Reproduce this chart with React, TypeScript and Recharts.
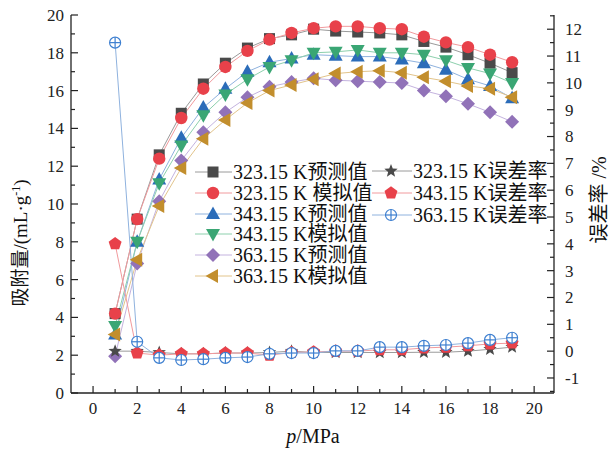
import React from 'react';
import { LineChart, Line, XAxis, YAxis, Customized } from 'recharts';

// pressure, MPa
const pressure = [1, 2, 3, 4, 5, 6, 7, 8, 9, 10, 11, 12, 13, 14, 15, 16, 17, 18, 19];

// adsorption, mL/g
const pred323 = [4.2, 9.2, 12.6, 14.8, 16.35, 17.45, 18.25, 18.75, 18.95, 19.25, 19.15, 19.1, 19.05, 18.95, 18.6, 18.3, 17.9, 17.45, 16.95];
const sim323 = [4.2, 9.2, 12.4, 14.55, 16.1, 17.25, 18.1, 18.7, 19.05, 19.3, 19.4, 19.4, 19.3, 19.25, 18.85, 18.55, 18.3, 17.9, 17.5];
const pred343 = [3.1, 8.0, 11.3, 13.5, 15.1, 16.1, 17.0, 17.5, 17.7, 17.9, 17.85, 17.8, 17.8, 17.65, 17.45, 17.1, 16.6, 16.25, 15.6];
const sim343 = [3.55, 8.0, 11.1, 13.1, 14.7, 15.8, 16.6, 17.25, 17.6, 18.0, 18.05, 18.15, 18.0, 18.0, 17.9, 17.6, 17.2, 16.9, 16.4];
const pred363 = [1.95, 6.85, 10.15, 12.3, 13.8, 14.85, 15.65, 16.2, 16.45, 16.65, 16.55, 16.5, 16.45, 16.4, 16.0, 15.7, 15.3, 14.85, 14.35];
const sim363 = [3.1, 7.05, 9.9, 11.9, 13.45, 14.45, 15.35, 16.0, 16.3, 16.6, 16.9, 17.0, 17.05, 16.95, 16.7, 16.5, 16.25, 16.1, 15.65];

// error rate, %
const err323 = [0, 0, -0.05, -0.1, -0.1, -0.07, -0.07, -0.05, 0, -0.05, -0.05, -0.05, -0.05, -0.05, -0.04, -0.04, 0, 0.07, 0.15];
const err343 = [4.0, -0.07, -0.15, -0.1, -0.1, -0.07, -0.07, -0.15, -0.05, -0.03, 0, 0, 0.05, 0.05, 0.12, 0.15, 0.2, 0.27, 0.3];
const err363 = [11.5, 0.35, -0.25, -0.33, -0.3, -0.25, -0.22, -0.1, -0.07, -0.07, 0.01, 0.01, 0.15, 0.15, 0.2, 0.23, 0.3, 0.42, 0.5];

const seriesNames = [
  '323.15 K预测值',
  '323.15 K 模拟值',
  '343.15 K预测值',
  '343.15 K模拟值',
  '363.15 K预测值',
  '363.15 K模拟值',
  '323.15 K误差率',
  '343.15 K误差率',
  '363.15 K误差率',
];

const xTicks = [0, 1, 2, 3, 4, 5, 6, 7, 8, 9, 10, 11, 12, 13, 14, 15, 16, 17, 18, 19, 20];
const leftTicks = [0, 1, 2, 3, 4, 5, 6, 7, 8, 9, 10, 11, 12, 13, 14, 15, 16, 17, 18, 19, 20];
const rightTicks = [-1.5, -1, -0.5, 0, 0.5, 1, 1.5, 2, 2.5, 3, 3.5, 4, 4.5, 5, 5.5, 6, 6.5, 7, 7.5, 8, 8.5, 9, 9.5, 10, 10.5, 11, 11.5, 12, 12.5];

const data = pressure.map((p, i) => ({
  p,
  pred323: pred323[i],
  sim323: sim323[i],
  pred343: pred343[i],
  sim343: sim343[i],
  pred363: pred363[i],
  sim363: sim363[i],
  err323: err323[i],
  err343: err343[i],
  err363: err363[i],
}));

const FONT = '"Liberation Serif", "Times New Roman", "Noto Sans CJK SC", serif';
const AXIS = '#222';

type P = { cx: number; cy: number };

const Square = ({ cx, cy }: P) => <rect x={cx - 5.5} y={cy - 5.5} width={11} height={11} fill="#4a4a4a" />;
const Dot = ({ cx, cy }: P) => <circle cx={cx} cy={cy} r={6.2} fill="#e8414a" />;
const UpTri = ({ cx, cy }: P) => (
  <polygon points={`${cx},${cy - 7.5} ${cx + 7},${cy + 5} ${cx - 7},${cy + 5}`} fill="#2b6cb9" />
);
const DownTri = ({ cx, cy }: P) => (
  <polygon points={`${cx},${cy + 7.5} ${cx + 7},${cy - 5} ${cx - 7},${cy - 5}`} fill="#3aa674" />
);
const Diamond = ({ cx, cy }: P) => (
  <polygon points={`${cx},${cy - 7} ${cx + 7},${cy} ${cx},${cy + 7} ${cx - 7},${cy}`} fill="#9172b8" />
);
const LeftTri = ({ cx, cy }: P) => (
  <polygon points={`${cx - 7.5},${cy} ${cx + 5},${cy - 7} ${cx + 5},${cy + 7}`} fill="#c28e2d" />
);

const starPoints = (cx: number, cy: number, ro: number, ri: number) => {
  const pts: string[] = [];
  for (let k = 0; k < 10; k++) {
    const r = k % 2 === 0 ? ro : ri;
    const a = -Math.PI / 2 + (k * Math.PI) / 5;
    pts.push(`${cx + r * Math.cos(a)},${cy + r * Math.sin(a)}`);
  }
  return pts.join(' ');
};
const pentPoints = (cx: number, cy: number, r: number) => {
  const pts: string[] = [];
  for (let k = 0; k < 5; k++) {
    const a = -Math.PI / 2 + (k * 2 * Math.PI) / 5;
    pts.push(`${cx + r * Math.cos(a)},${cy + r * Math.sin(a)}`);
  }
  return pts.join(' ');
};

const Star = ({ cx, cy }: P) => <polygon points={starPoints(cx, cy, 7, 3)} fill="#4a4a4a" />;
const Pent = ({ cx, cy }: P) => <polygon points={pentPoints(cx, cy, 6.8)} fill="#e8414a" />;
const CrossCircle = ({ cx, cy }: P) => (
  <g stroke="#3d7fd0" strokeWidth={1.2}>
    <circle cx={cx} cy={cy} r={5.5} fill="#fff" />
    <line x1={cx - 5.5} y1={cy} x2={cx + 5.5} y2={cy} />
    <line x1={cx} y1={cy - 5.5} x2={cx} y2={cy + 5.5} />
  </g>
);

const series = [
  { key: 'pred323', shape: Square, line: '#9a9a9a', axis: 'left' },
  { key: 'sim323', shape: Dot, line: '#f19a9d', axis: 'left' },
  { key: 'pred343', shape: UpTri, line: '#8fb2de', axis: 'left' },
  { key: 'sim343', shape: DownTri, line: '#8dd0ad', axis: 'left' },
  { key: 'pred363', shape: Diamond, line: '#c4b3df', axis: 'left' },
  { key: 'sim363', shape: LeftTri, line: '#e2c48b', axis: 'left' },
  { key: 'err323', shape: Star, line: '#9a9a9a', axis: 'right' },
  { key: 'err343', shape: Pent, line: '#f19a9d', axis: 'right' },
  { key: 'err363', shape: CrossCircle, line: '#8fb2de', axis: 'right' },
];

const makeDot = (Shape: React.FC<P>) => (props: any) => {
  const { cx, cy, index } = props;
  if (cx == null || cy == null) return <g key={`n-${index}`} />;
  return <Shape key={`d-${index}`} cx={cx} cy={cy} />;
};

const LeftTick = (props: any) => {
  const { x, y, payload } = props;
  const v = payload.value;
  const major = v % 2 === 0;
  return (
    <g>
      <line x1={x} y1={y} x2={x + (major ? 7 : 4)} y2={y} stroke={AXIS} strokeWidth={1.2} />
      {major && (
        <text x={x - 7} y={y} dy="0.35em" textAnchor="end" fontSize={17} fontFamily={FONT} fill={AXIS}>
          {v}
        </text>
      )}
    </g>
  );
};

const RightTick = (props: any) => {
  const { x, y, payload } = props;
  const v = payload.value;
  const major = Number.isInteger(v);
  return (
    <g>
      <line x1={x} y1={y} x2={x - (major ? 7 : 4)} y2={y} stroke={AXIS} strokeWidth={1.2} />
      {major && (
        <text x={x + 11} y={y} dy="0.35em" textAnchor="start" fontSize={17} fontFamily={FONT} fill={AXIS}>
          {v}
        </text>
      )}
    </g>
  );
};

const BottomTick = (props: any) => {
  const { x, y, payload } = props;
  const v = payload.value;
  const major = v % 2 === 0;
  return (
    <g>
      <line x1={x} y1={y} x2={x} y2={y - (major ? 7 : 4)} stroke={AXIS} strokeWidth={1.2} />
      {major && (
        <text x={x} y={y + 21} textAnchor="middle" fontSize={17} fontFamily={FONT} fill={AXIS}>
          {v}
        </text>
      )}
    </g>
  );
};

const legendRows1 = [172, 193, 214, 234, 255, 276];
const legendRows2 = [171, 193, 215];

const LegendLayer = () => (
  <g fontFamily={FONT} fontSize={20} fill="#111">
    {series.slice(0, 6).map((s, i) => {
      const y = legendRows1[i];
      const Shape = s.shape;
      return (
        <g key={s.key}>
          <line x1={195} y1={y} x2={232} y2={y} stroke={s.line} strokeWidth={1} />
          <Shape cx={213} cy={y} />
          <text x={233} y={y} dy="0.35em">
            {seriesNames[i]}
          </text>
        </g>
      );
    })}
    {series.slice(6).map((s, i) => {
      const y = legendRows2[i];
      const Shape = s.shape;
      return (
        <g key={s.key}>
          <line x1={372} y1={y} x2={412} y2={y} stroke={s.line} strokeWidth={1} />
          <Shape cx={391} cy={y} />
          <text x={413} y={y} dy="0.35em">
            {seriesNames[6 + i]}
          </text>
        </g>
      );
    })}
  </g>
);

const Titles = () => (
  <g fontFamily={FONT} fill="#111">
    <text x={440 - 127} y={443} textAnchor="middle" fontSize={20}>
      <tspan fontStyle="italic">p</tspan>/MPa
    </text>
    <text x={20} y={243} textAnchor="middle" fontSize={19} transform="rotate(-90 20 243)" dy="0.35em">
      吸附量/(mL·g<tspan baselineShift="super" fontSize={12}>-1</tspan>)
    </text>
    <text x={599} y={200} textAnchor="middle" fontSize={20} transform="rotate(-90 599 200)" dy="0.35em">
      误差率 /%
    </text>
  </g>
);

export default function App() {
  return (
    <div style={{ position: 'absolute', left: 0, top: 0, background: '#fff' }}>
      <LineChart width={615} height={449} data={data} margin={{ top: 15, right: 0, bottom: 0, left: 0 }}>
        <XAxis
          dataKey="p"
          type="number"
          domain={[-1, 20.9]}
          ticks={xTicks}
          interval={0}
          allowDataOverflow
          height={56}
          tickSize={0}
          tickMargin={0}
          tick={<BottomTick />}
          axisLine={{ stroke: AXIS, strokeWidth: 1.3 }}
        />
        <YAxis
          yAxisId="left"
          orientation="left"
          type="number"
          domain={[0, 20]}
          ticks={leftTicks}
          interval={0}
          allowDataOverflow
          width={71}
          tickSize={0}
          tickMargin={0}
          tick={<LeftTick />}
          axisLine={{ stroke: AXIS, strokeWidth: 1.3 }}
        />
        <YAxis
          yAxisId="right"
          orientation="right"
          type="number"
          domain={[-1.56, 12.53]}
          ticks={rightTicks}
          interval={0}
          allowDataOverflow
          width={61}
          tickSize={0}
          tickMargin={0}
          tick={<RightTick />}
          axisLine={{ stroke: AXIS, strokeWidth: 1.3 }}
        />
        {series.map((s) => (
          <Line
            key={s.key}
            yAxisId={s.axis}
            dataKey={s.key}
            type="linear"
            stroke={s.line}
            strokeWidth={1}
            dot={makeDot(s.shape)}
            activeDot={false}
            isAnimationActive={false}
          />
        ))}
        <Customized component={LegendLayer} />
        <Customized component={Titles} />
      </LineChart>
    </div>
  );
}
